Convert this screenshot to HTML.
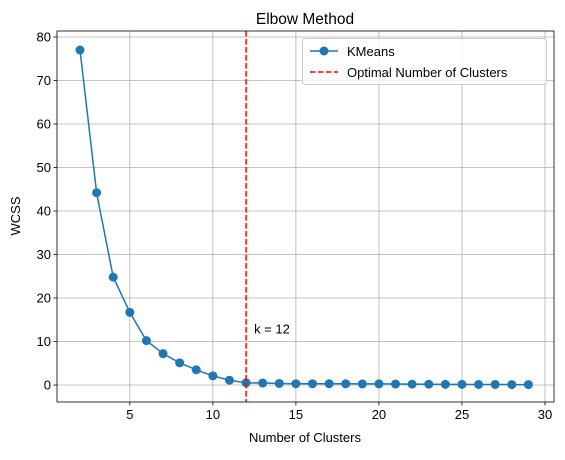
<!DOCTYPE html>
<html><head><meta charset="utf-8"><style>
body{margin:0;background:#fff;}
svg{font-family:"Liberation Sans","DejaVu Sans",sans-serif;}
</style></head><body>
<svg id="c" width="565" height="455" xmlns="http://www.w3.org/2000/svg"></svg>
<script>
const ks=[2,3,4,5,6,7,8,9,10,11,12,13,14,15,16,17,18,19,20,21,22,23,24,25,26,27,28,29];
const wcss=[77,44.2,24.8,16.7,10.2,7.2,5.1,3.5,2.1,1.1,0.5,0.45,0.35,0.3,0.3,0.3,0.28,0.25,0.25,0.22,0.2,0.18,0.15,0.15,0.12,0.12,0.1,0.1];
const xTicks=[5,10,15,20,25,30];
const yTicks=[0,10,20,30,40,50,60,70,80];
const optimalK=12;
const L=57,R=554,T=31,B=402;
const X=v=>80+(v-2)*(545-80)/28;
const Y=v=>385-v*(385-37)/80;
const s=document.getElementById('c');
const NS='http://www.w3.org/2000/svg';
function el(t,a,txt){const e=document.createElementNS(NS,t);for(const k in a)e.setAttribute(k,a[k]);if(txt!==undefined)e.textContent=txt;s.appendChild(e);return e;}
for(const v of xTicks){
const g=el('line',{x1:X(v),x2:X(v),y1:T,y2:B,stroke:'#b0b0b0','stroke-width':0.8});

const t=el('line',{x1:X(v),x2:X(v),y1:B,y2:B+3.5,stroke:'#000','stroke-width':0.8});

const l=el('text',{x:X(v),y:B+17,'text-anchor':'middle','font-size':13},v);

}
for(const v of yTicks){
const g=el('line',{x1:L,x2:R,y1:Y(v),y2:Y(v),stroke:'#b0b0b0','stroke-width':0.8});

const t=el('line',{x1:L-3.5,x2:L,y1:Y(v),y2:Y(v),stroke:'#000','stroke-width':0.8});

const l=el('text',{x:L-6,y:Y(v)+4.5,'text-anchor':'end','font-size':13},v);

}
const line=el('polyline',{points:ks.map((k,i)=>X(k)+','+Y(wcss[i])).join(' '),fill:'none',stroke:'#1f77b4','stroke-width':1.5});

ks.forEach((k,i)=>{const p=el('circle',{cx:X(k),cy:Y(wcss[i]),r:4.5,fill:'#1f77b4'});
});
const v=el('line',{x1:X(optimalK),x2:X(optimalK),y1:T,y2:B,stroke:'#ff0000','stroke-width':1.5,'stroke-dasharray':'5.5,2.5'});

const ann=el('text',{x:X(optimalK)+8,y:Y(12)+0.5,'font-size':13},'k = 12');

const f=el('rect',{x:L,y:T,width:R-L,height:B-T,fill:'none',stroke:'#000','stroke-width':0.8});

</script>
<svg style="position:absolute;left:0;top:0" width="565" height="455" xmlns="http://www.w3.org/2000/svg" font-family="Liberation Sans, DejaVu Sans, sans-serif">
<text x="305" y="24" text-anchor="middle" font-size="15.5">Elbow Method</text>
<text x="305" y="442" text-anchor="middle" font-size="13">Number of Clusters</text>
<text transform="translate(20,216) rotate(-90)" text-anchor="middle" font-size="13">WCSS</text>
<g>
<rect x="302.5" y="38.5" width="244" height="46" rx="3" fill="#fff" fill-opacity="0.8" stroke="#ccc"/>
<g>
<line x1="310" x2="338" y1="51" y2="51" stroke="#1f77b4" stroke-width="1.5"/><circle cx="324" cy="51" r="4.5" fill="#1f77b4"/>
<text x="347" y="56" font-size="13">KMeans</text></g>
<g>
<line x1="310" x2="338" y1="72" y2="72" stroke="#ff0000" stroke-width="1.5" stroke-dasharray="5.5,2.5"/>
<text x="347" y="77" font-size="13">Optimal Number of Clusters</text></g>
</g>
</svg>
</body></html>
